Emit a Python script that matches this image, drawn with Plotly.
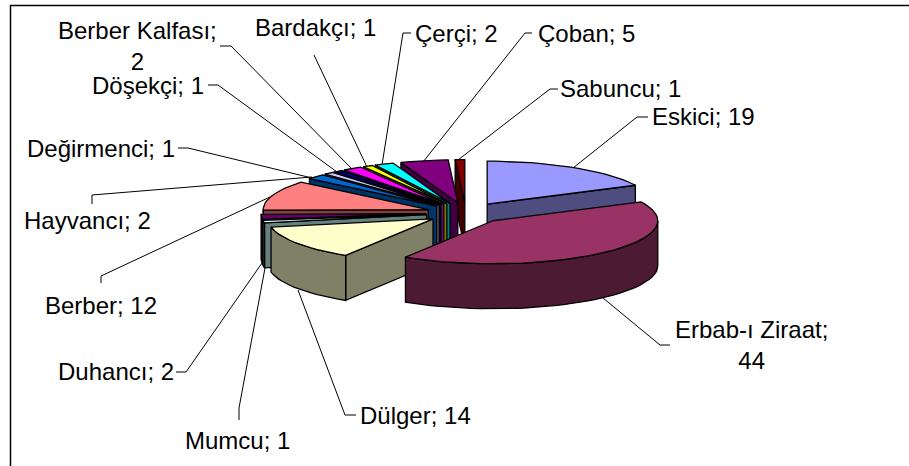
import math
import plotly.graph_objects as go

# ---- data ----
categories = ["Eskici", "Erbab-ı Ziraat", "Dülger", "Mumcu", "Duhancı", "Berber", "Hayvancı",
              "Değirmenci", "Döşekçi", "Berber Kalfası", "Bardakçı", "Çerçi", "Çoban", "Sabuncu"]
values = [19, 44, 14, 1, 2, 12, 2, 1, 1, 2, 1, 2, 5, 1]
top_colors = ["#9999FF", "#993366", "#FFFFCC", "#CCFFFF", "#660066", "#FF8080", "#0066CC",
              "#CCCCFF", "#000080", "#FF00FF", "#FFFF00", "#00FFFF", "#800080", "#800000"]
side_colors = ["#4D4D80", "#4D1A33", "#808066", "#668080", "#330033", "#804040", "#003366",
               "#666680", "#000040", "#800080", "#808000", "#008080", "#400040", "#400000"]

# ---- layout of the projected pie (pixels) ----
W, H = 909, 466
CX, CY = 466.0, 213.0
RX, RY = 165.0, 43.0
DEPTH = 45.0
EXPLODE = 0.2424
LINE = dict(color="#000000", width=1.3)

# label layout: text, centre x, centre y, leader polyline
labels = {
    "Eskici": ("Eskici; 19", 703, 116, [(573, 168), (637, 117), (648, 117)]),
    "Erbab-ı Ziraat": ("Erbab-ı Ziraat;<br>44", 751, 345, [(603, 298), (660, 345), (670, 345)]),
    "Dülger": ("Dülger; 14", 415, 415, [(298, 290), (345, 415), (356, 415)]),
    "Mumcu": ("Mumcu; 1", 237, 440, [(265, 268), (239, 408), (239, 420)]),
    "Duhancı": ("Duhancı; 2", 116, 371, [(262, 263), (186, 372), (176, 372)]),
    "Berber": ("Berber; 12", 101, 305, [(270, 197), (101, 276), (101, 283)]),
    "Hayvancı": ("Hayvancı; 2", 87, 220, [(312, 177), (92, 195), (92, 204)]),
    "Değirmenci": ("Değirmenci; 1", 101, 148, [(312, 178), (188, 148), (178, 148)]),
    "Döşekçi": ("Döşekçi; 1", 148, 85, [(337, 172), (218, 85), (208, 85)]),
    "Berber Kalfası": ("Berber Kalfası;<br>2", 137, 46, [(352, 169), (231, 46), (220, 46)]),
    "Bardakçı": ("Bardakçı; 1", 315, 27, [(367, 167), (314, 55)]),
    "Çerçi": ("Çerçi; 2", 456, 33, [(382, 165), (403, 33), (411, 33)]),
    "Çoban": ("Çoban; 5", 586, 33, [(423, 162), (525, 33), (532, 33)]),
    "Sabuncu": ("Sabuncu; 1", 620, 88, [(458, 160), (550, 89), (558, 89)]),
}

fig = go.Figure()


def add_poly(pts, fill):
    fig.add_trace(go.Scatter(x=[p[0] for p in pts] + [pts[0][0]],
                             y=[p[1] for p in pts] + [pts[0][1]],
                             mode="lines", fill="toself", fillcolor=fill, line=LINE,
                             hoverinfo="skip", showlegend=False))


total = sum(values)
slices = []
acc = 0.0
for name, v, top, side in zip(categories, values, top_colors, side_colors):
    a0 = acc / total * 2 * math.pi
    acc += v
    a1 = acc / total * 2 * math.pi
    slices.append((name, a0, a1, top, side))


def draw_slice(a0, a1, top, side):
    mid = (a0 + a1) / 2
    ax = CX + EXPLODE * RX * math.sin(mid)
    ay = CY - EXPLODE * RY * math.cos(mid)

    def rim(t, d=0.0):
        return (ax + RX * math.sin(t), ay - RY * math.cos(t) + d)

    n = max(3, int((a1 - a0) / math.radians(3)))
    ts = [a0 + (a1 - a0) * i / n for i in range(n + 1)]
    # start-edge face, visible on the left half
    if math.sin(a0) < 0:
        add_poly([(ax, ay), rim(a0), rim(a0, DEPTH), (ax, ay + DEPTH)], side)
    # end-edge face, visible on the right half
    if math.sin(a1) > 1e-6:
        add_poly([(ax, ay), rim(a1), rim(a1, DEPTH), (ax, ay + DEPTH)], side)
    # outer wall, facing the viewer between 90 and 270 degrees
    lo, hi = max(a0, math.pi / 2), min(a1, 3 * math.pi / 2)
    if hi > lo:
        m = max(2, int((hi - lo) / math.radians(3)))
        ws = [lo + (hi - lo) * i / m for i in range(m + 1)]
        add_poly([rim(t) for t in ws] + [rim(t, DEPTH) for t in reversed(ws)], side)
    add_poly([(ax, ay)] + [rim(t) for t in ts], top)


# leaders sit under the pie
for name in categories:
    pts = labels[name][3]
    fig.add_trace(go.Scatter(x=[p[0] for p in pts], y=[p[1] for p in pts], mode="lines",
                             line=dict(color="#000000", width=1), hoverinfo="skip", showlegend=False))

# painter's order: back-left slices first, walking round to Dülger, then the right side
for s in reversed(slices[2:]):
    draw_slice(s[1], s[2], s[3], s[4])
draw_slice(slices[0][1], slices[0][2], slices[0][3], slices[0][4])
draw_slice(slices[1][1], slices[1][2], slices[1][3], slices[1][4])

# chart frame: only top and left edges are in view
fig.add_trace(go.Scatter(x=[10.5, 10.5, 909], y=[466, 5.5, 5.5], mode="lines",
                         line=dict(color="#000000", width=1.5), hoverinfo="skip", showlegend=False))

for name in categories:
    text, x, y, _ = labels[name]
    fig.add_annotation(x=x, y=y, text=text, showarrow=False, xanchor="center", yanchor="middle",
                       align="center", font=dict(family="Liberation Sans, Arial, sans-serif",
                                                 size=24, color="#000000"))

fig.update_layout(width=W, height=H, margin=dict(l=0, r=0, t=0, b=0),
                  paper_bgcolor="#FFFFFF", plot_bgcolor="#FFFFFF", showlegend=False,
                  xaxis=dict(range=[0, W], visible=False, fixedrange=True),
                  yaxis=dict(range=[H, 0], visible=False, fixedrange=True))

fig.write_html("out.html", config=dict(displayModeBar=False),
               post_script="document.body.style.margin='0';document.documentElement.style.overflow='hidden';")
